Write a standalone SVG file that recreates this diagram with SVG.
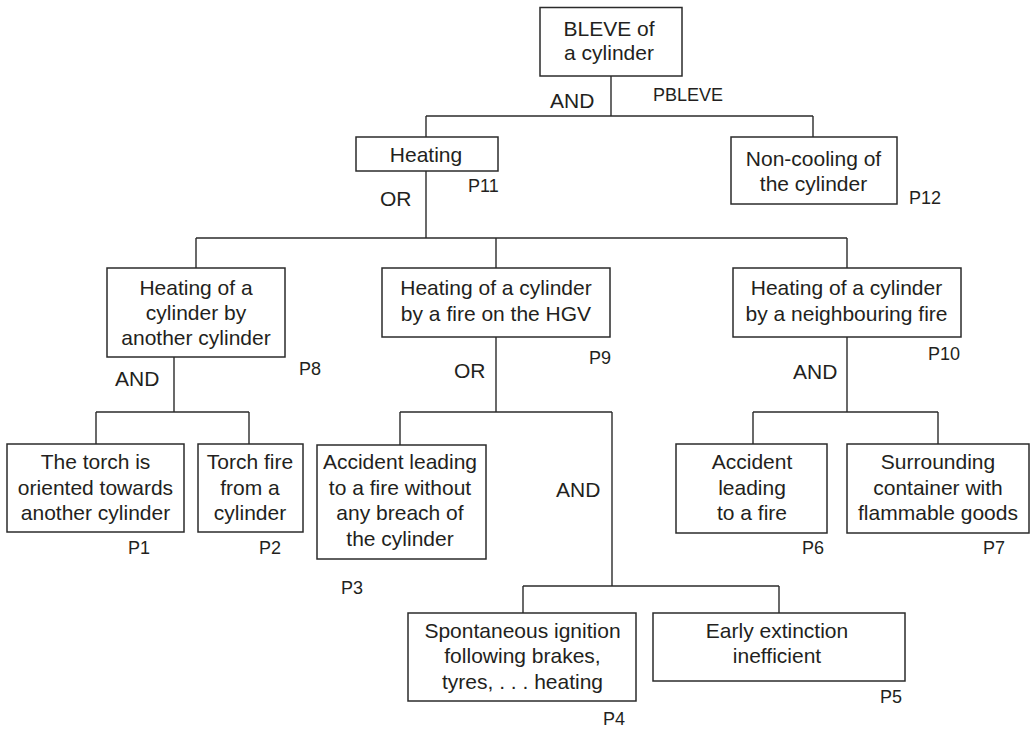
<svg xmlns="http://www.w3.org/2000/svg" width="1033" height="740" viewBox="0 0 1033 740">
  <style>
    .box { fill: #ffffff; stroke: #2b2b2b; stroke-width: 1.5; }
    .wire { fill: none; stroke: #2b2b2b; stroke-width: 1.4; }
    .t { font-family: "Liberation Sans", Arial, Helvetica, sans-serif; font-size: 21px; fill: #231f20; text-anchor: middle; }
    .gate { font-family: "Liberation Sans", Arial, Helvetica, sans-serif; font-size: 21px; fill: #231f20; }
    .p { font-family: "Liberation Sans", Arial, Helvetica, sans-serif; font-size: 18px; fill: #231f20; }
  </style>
  <rect width="1033" height="740" fill="#ffffff"/>

  <!-- connectors of the fault tree -->
  <g id="connectors" class="wire">
    <path d="M611 76 V116 M426 116 H813 M426 116 V137 M813 116 V137"/>
    <path d="M426 171 V238 M196 238 H847 M196 238 V268 M496 238 V268 M847 238 V268"/>
    <path d="M174 357 V412 M96 412 H249 M96 412 V444 M249 412 V444"/>
    <path d="M496 337 V412 M400 412 H612 M400 412 V445 M612 412 V586"/>
    <path d="M523 586 H779 M523 586 V613 M779 586 V613"/>
    <path d="M847 337 V412 M753 412 H938 M753 412 V444 M938 412 V444"/>
  </g>

  <!-- gate and probability labels -->
  <g id="labels">
    <text class="gate" x="550" y="108">AND</text>
    <text class="p" x="653" y="100.5">PBLEVE</text>
    <text class="gate" x="380" y="205.5">OR</text>
    <text class="p" x="468" y="192">P11</text>
    <text class="p" x="909" y="204">P12</text>
    <text class="gate" x="115" y="386">AND</text>
    <text class="p" x="299" y="375">P8</text>
    <text class="gate" x="454" y="377.5">OR</text>
    <text class="p" x="589" y="363.5">P9</text>
    <text class="gate" x="793" y="378.5">AND</text>
    <text class="p" x="928" y="359.5">P10</text>
    <text class="p" x="128" y="554">P1</text>
    <text class="p" x="259" y="554">P2</text>
    <text class="p" x="341" y="593.5">P3</text>
    <text class="gate" x="556" y="497">AND</text>
    <text class="p" x="802" y="554">P6</text>
    <text class="p" x="983" y="554">P7</text>
    <text class="p" x="603" y="725">P4</text>
    <text class="p" x="880" y="702.5">P5</text>
  </g>

  <g id="n-bleve">
    <rect class="box" x="540" y="7.5" width="142" height="68.5"/>
    <text class="t" x="609" y="36">BLEVE of</text>
    <text class="t" x="609" y="60">a cylinder</text>
  </g>

  <g id="n-p11">
    <rect class="box" x="356" y="137" width="142" height="34"/>
    <text class="t" x="426" y="161.5">Heating</text>
  </g>

  <g id="n-p12">
    <rect class="box" x="731" y="137" width="166" height="67"/>
    <text class="t" x="813.5" y="165.5">Non-cooling of</text>
    <text class="t" x="813.5" y="190.5">the cylinder</text>
  </g>

  <g id="n-p8">
    <rect class="box" x="107" y="268" width="178" height="89"/>
    <text class="t" x="196" y="295">Heating of a</text>
    <text class="t" x="196" y="320">cylinder by</text>
    <text class="t" x="196" y="345">another cylinder</text>
  </g>

  <g id="n-p9">
    <rect class="box" x="382" y="268" width="228" height="69"/>
    <text class="t" x="496" y="295">Heating of a cylinder</text>
    <text class="t" x="496" y="320.5">by a fire on the HGV</text>
  </g>

  <g id="n-p10">
    <rect class="box" x="733" y="268" width="228" height="69"/>
    <text class="t" x="846.5" y="295">Heating of a cylinder</text>
    <text class="t" x="846.5" y="320.5">by a neighbouring fire</text>
  </g>

  <g id="n-p1">
    <rect class="box" x="7" y="444" width="177" height="88"/>
    <text class="t" x="95.5" y="469">The torch is</text>
    <text class="t" x="95.5" y="494.5">oriented towards</text>
    <text class="t" x="95.5" y="519.5">another cylinder</text>
  </g>

  <g id="n-p2">
    <rect class="box" x="198" y="444" width="105" height="88"/>
    <text class="t" x="250" y="469">Torch fire</text>
    <text class="t" x="250" y="494.5">from a</text>
    <text class="t" x="250" y="519.5">cylinder</text>
  </g>

  <g id="n-p3">
    <rect class="box" x="317" y="445" width="169" height="114"/>
    <text class="t" x="400" y="469">Accident leading</text>
    <text class="t" x="400" y="494.5">to a fire without</text>
    <text class="t" x="400" y="520">any breach of</text>
    <text class="t" x="400" y="545.5">the cylinder</text>
  </g>

  <g id="n-p6">
    <rect class="box" x="676" y="444" width="151" height="89"/>
    <text class="t" x="752" y="469">Accident</text>
    <text class="t" x="752" y="495">leading</text>
    <text class="t" x="752" y="519.5">to a fire</text>
  </g>

  <g id="n-p7">
    <rect class="box" x="847" y="444" width="182" height="89"/>
    <text class="t" x="938" y="469">Surrounding</text>
    <text class="t" x="938" y="495">container with</text>
    <text class="t" x="938" y="519.5">flammable goods</text>
  </g>

  <g id="n-p4">
    <rect class="box" x="408" y="613" width="228" height="88"/>
    <text class="t" x="522.5" y="637.5">Spontaneous ignition</text>
    <text class="t" x="522.5" y="663">following brakes,</text>
    <text class="t" x="522.5" y="688.5">tyres, . . . heating</text>
  </g>

  <g id="n-p5">
    <rect class="box" x="653" y="613" width="252" height="68"/>
    <text class="t" x="777" y="637.5">Early extinction</text>
    <text class="t" x="777" y="663">inefficient</text>
  </g>
</svg>
